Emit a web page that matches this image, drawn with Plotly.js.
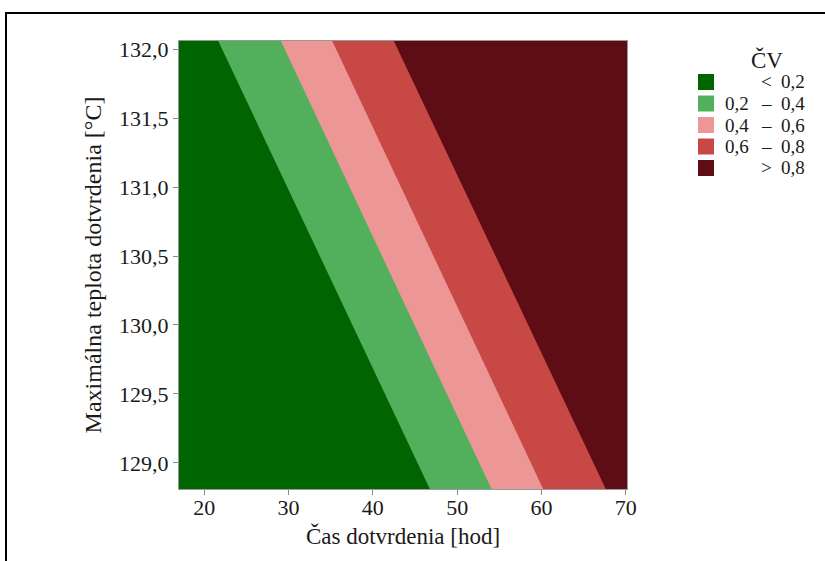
<!DOCTYPE html>
<html>
<head>
<meta charset="utf-8">
<script src="https://cdn.plot.ly/plotly-3.0.1.min.js"></script>
<style>
  html, body { margin: 0; padding: 0; background: #fff; }
  #wrap { position: relative; width: 825px; height: 561px; overflow: hidden; }
  #chart { position: absolute; left: 0; top: 0; width: 825px; height: 561px; }
  #frame { position: absolute; left: 5px; top: 12px; width: 900px; height: 700px;
           border-left: 2px solid #000; border-top: 2px solid #000; pointer-events: none; }
</style>
</head>
<body>
<div id="wrap"><div id="chart"></div><div id="frame"></div></div>
<script>
// Axis extents (hours, °C)
const xExtent = [17.0, 70.15];
const yExtent = [128.81, 132.06];
// Where each ČV level boundary (0.2, 0.4, 0.6, 0.8) meets the top and bottom edge
const levels = [0.2, 0.4, 0.6, 0.8];
const boundaryAtTop = [21.66, 29.09, 35.18, 42.49];
const boundaryAtBottom = [46.76, 54.08, 60.20, 67.63];
// Legend: band lower label, relation sign, upper label, and fill colours
const bandLow = ['', '0,2', '0,4', '0,6', ''];
const bandSign = ['<', '–', '–', '–', '>'];
const bandHigh = ['0,2', '0,4', '0,6', '0,8', '0,8'];
const bandColors = ['#006400', '#52B05C', '#EC9696', '#C84846', '#5E0D14'];
const legendTitle = 'ČV';

const FONT = 'Liberation Serif, Times New Roman, serif';
const TXT = '#1a1a1a';

const traces = [];
const yTop = yExtent[1], yBot = yExtent[0], xMin = xExtent[0], xMax = xExtent[1];
for (let k = 0; k < bandColors.length; k++) {
  const lt = k === 0 ? xMin : boundaryAtTop[k - 1];
  const lb = k === 0 ? xMin : boundaryAtBottom[k - 1];
  traces.push({
    type: 'scatter', mode: 'none', fill: 'toself',
    x: [lt, xMax, xMax, lb, lt],
    y: [yTop, yTop, yBot, yBot, yTop],
    fillcolor: bandColors[k], line: {width: 0},
    name: bandLow[k] + ' ' + bandSign[k] + ' ' + bandHigh[k],
    showlegend: false, hoverinfo: 'skip'
  });
}

// Manual legend (paper coordinates relative to plot area 179..627 x 41..489)
const L = 179, T = 41, W = 448, H = 448;
const px = p => (p - L) / W;
const py = p => 1 - (p - T) / H;
const shapes = [];
const annotations = [];
const rowY = [82, 103.5, 125, 146.5, 168];
annotations.push({xref: 'paper', yref: 'paper', x: px(767), y: py(60), xanchor: 'center', yanchor: 'middle',
  text: legendTitle, showarrow: false, font: {family: FONT, size: 23, color: TXT}});
for (let k = 0; k < bandColors.length; k++) {
  const cy = rowY[k];
  shapes.push({type: 'rect', xref: 'paper', yref: 'paper', x0: px(698), x1: px(714), y0: py(cy - 8), y1: py(cy + 8),
    fillcolor: bandColors[k], line: {width: 0}});
  const f = {family: FONT, size: 19, color: TXT};
  if (bandLow[k]) annotations.push({xref: 'paper', yref: 'paper', x: px(751), y: py(cy), xanchor: 'right', yanchor: 'middle',
    text: bandLow[k], showarrow: false, font: f});
  annotations.push({xref: 'paper', yref: 'paper', x: px(766), y: py(cy), xanchor: 'center', yanchor: 'middle',
    text: bandSign[k], showarrow: false, font: f});
  annotations.push({xref: 'paper', yref: 'paper', x: px(807), y: py(cy), xanchor: 'right', yanchor: 'middle',
    text: bandHigh[k], showarrow: false, font: f});
}

const layout = {
  width: 825, height: 561,
  margin: {l: 179, r: 198, t: 41, b: 72, pad: 0},
  paper_bgcolor: '#fff', plot_bgcolor: '#fff',
  font: {family: FONT, size: 22, color: TXT},
  separators: ',.',
  showlegend: false,
  xaxis: {
    range: xExtent, tickvals: [20, 30, 40, 50, 60, 70],
    ticks: 'outside', ticklen: 5, tickcolor: '#888', tickwidth: 1,
    showline: true, linecolor: '#999', linewidth: 1, mirror: true,
    showgrid: false, zeroline: false, ticklabelstandoff: -6,
    tickfont: {family: FONT, size: 22, color: TXT},
    title: {text: 'Čas dotvrdenia [hod]', font: {family: FONT, size: 23, color: TXT}, standoff: 8}
  },
  yaxis: {
    range: yExtent, tickvals: [129, 129.5, 130, 130.5, 131, 131.5, 132], tickformat: '.1f',
    ticks: 'outside', ticklen: 5, tickcolor: '#888', tickwidth: 1,
    showline: true, linecolor: '#999', linewidth: 1, mirror: true,
    showgrid: false, zeroline: false,
    tickfont: {family: FONT, size: 22, color: TXT},
    title: {text: 'Maximálna teplota dotvrdenia [°C]', font: {family: FONT, size: 24, color: TXT}, standoff: 10}
  },
  shapes: shapes,
  annotations: annotations
};

Plotly.newPlot('chart', traces, layout, {staticPlot: true, displayModeBar: false});
</script>
</body>
</html>
